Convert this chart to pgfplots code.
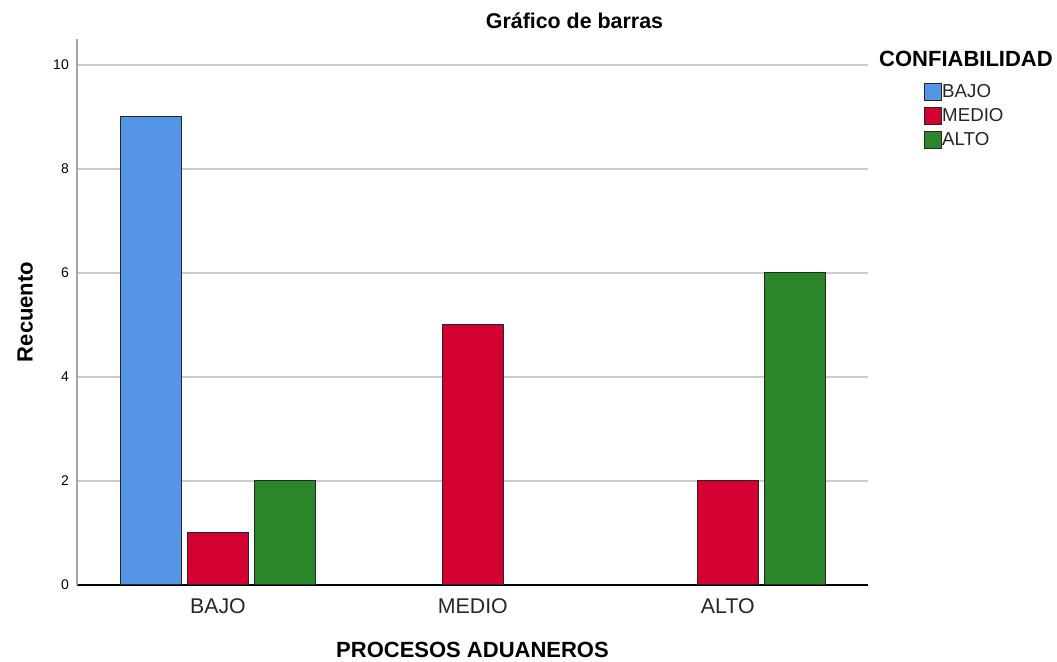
\documentclass[border=0pt]{standalone}
\usepackage{pgfplots}
\pgfplotsset{compat=1.18}
\usepackage{fontspec}
\setmainfont{Liberation Sans}
\definecolor{cblue}{HTML}{5595E5}
\definecolor{cred}{HTML}{D50032}
\definecolor{cgreen}{HTML}{2B8529}
\begin{document}
\begin{tikzpicture}[x=1bp,y=1bp]
\useasboundingbox (-77,-77) rectangle (980,585);
\begin{axis}[
  at={(0,0)}, anchor=south west,
  scale only axis, width=791bp, height=546bp,
  xmin=-0.553, xmax=2.55, ymin=0, ymax=10.5,
  xtick={0,1,2}, xticklabels={BAJO,MEDIO,ALTO},
  ytick={0,2,4,6,8,10},
  ymajorgrids, grid style={draw=black!20, line width=1.5bp},
  major tick length=0pt,
  axis x line*=bottom, axis y line*=left,
  x axis line style={black, line width=1.3bp, -},
  y axis line style={black!35, line width=1.6bp, -},
  yticklabel style={font=\fontsize{14bp}{16bp}\selectfont, inner sep=0pt, xshift=-8bp},
  xticklabel style={font=\fontsize{21.3bp}{24bp}\selectfont, text=black!85, inner sep=0pt, anchor=north, yshift=-13bp},
  /pgf/number format/assume math mode=true,
  xlabel={PROCESOS ADUANEROS},
  xlabel style={font=\bfseries\fontsize{22bp}{24bp}\selectfont, inner sep=0pt, anchor=base, at={([yshift=-73bp]axis description cs:0.5,0)}},
  ylabel={Recuento},
  ylabel style={font=\bfseries\fontsize{22bp}{24bp}\selectfont, inner sep=0pt, anchor=south, rotate=0, at={([xshift=-44bp]axis description cs:0,0.5)}},
  ybar, bar width=0.24,
  every axis plot/.append style={draw=black!85, line width=1bp},
  legend style={at={([xshift=56bp,yshift=-44bp]axis description cs:1,1)}, anchor=north west, draw=none, fill=none, inner sep=0pt, row sep=6bp,
    nodes={inner sep=0pt, font=\fontsize{18.7bp}{20bp}\selectfont, text=black!85}},
  legend cell align=left,
  legend image code/.code={\draw[#1, draw=black!85, line width=1bp] (0bp,-8.5bp) rectangle (17bp,8.5bp);},
  /tikz/every even column/.style={column sep=2bp},
]
\addplot[fill=cblue, bar shift=-0.263] coordinates {(0,9)};
\addplot[fill=cred, bar shift=0] coordinates {(0,1) (1,5) (2,2)};
\addplot[fill=cgreen, bar shift=0.263] coordinates {(0,2) (2,6)};
\legend{BAJO,MEDIO,ALTO}
\end{axis}
\node[anchor=base, inner sep=0pt, font=\bfseries\fontsize{21.4bp}{24bp}\selectfont] at (497.5,556) {Gráfico de barras};
\node[anchor=base west, inner sep=0pt, font=\bfseries\fontsize{22bp}{24bp}\selectfont] at (802,518) {CONFIABILIDAD};
\end{tikzpicture}
\end{document}
